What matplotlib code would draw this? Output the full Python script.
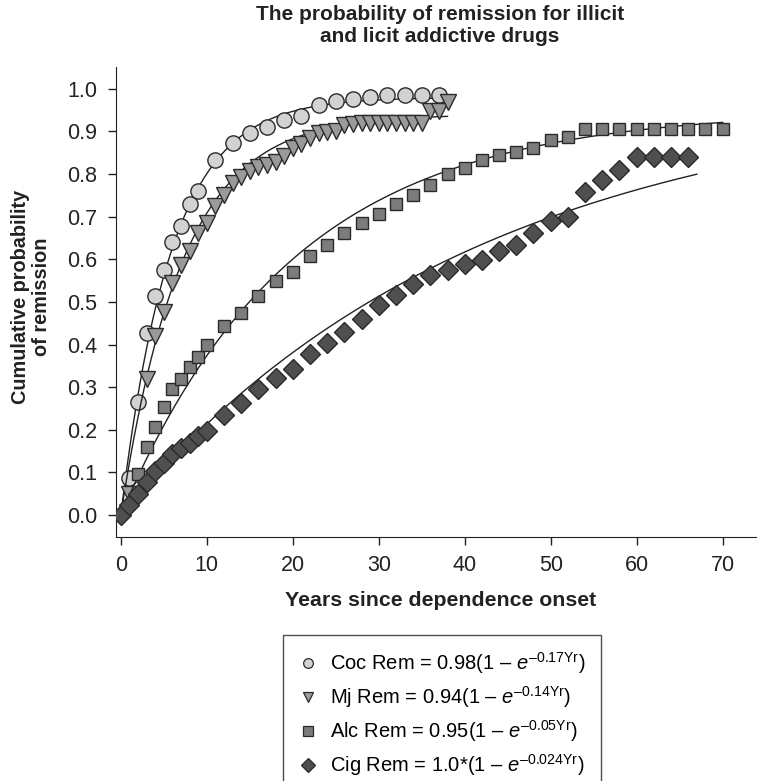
import numpy as np
import matplotlib
matplotlib.use("Agg")
from matplotlib import pyplot as plt
from matplotlib.lines import Line2D

plt.rcParams['font.family'] = ['Liberation Sans', 'DejaVu Sans']
plt.rcParams['mathtext.fontset'] = 'custom'
plt.rcParams['mathtext.rm'] = 'Liberation Sans'
plt.rcParams['mathtext.it'] = 'Liberation Sans:italic'

coc_years = [1, 2, 3, 4, 5, 6, 7, 8, 9, 11, 13, 15, 17, 19, 21, 23, 25, 27, 29, 31, 33, 35, 37]
coc_prob = [0.086, 0.266, 0.426, 0.514, 0.574, 0.64, 0.677, 0.73, 0.76, 0.833, 0.872, 0.897,
            0.911, 0.927, 0.937, 0.962, 0.972, 0.976, 0.98, 0.985, 0.985, 0.985, 0.985]

mj_years = [1, 3, 4, 5, 6, 7, 8, 9, 10, 11, 12, 13, 14, 15, 16, 17, 18, 19, 20, 21, 22, 23,
            24, 25, 26, 27, 28, 29, 30, 31, 32, 33, 34, 35, 36, 37, 38]
mj_prob = [0.05, 0.32, 0.42, 0.477, 0.545, 0.587, 0.62, 0.661, 0.685, 0.725, 0.75, 0.779,
           0.794, 0.808, 0.816, 0.822, 0.829, 0.843, 0.861, 0.871, 0.884, 0.896, 0.899,
           0.9, 0.915, 0.918, 0.92, 0.92, 0.92, 0.92, 0.92, 0.92, 0.92, 0.92, 0.947, 0.947, 0.97]

alc_years = [2, 3, 4, 5, 6, 7, 8, 9, 10, 12, 14, 16, 18, 20, 22, 24, 26, 28, 30, 32, 34, 36,
             38, 40, 42, 44, 46, 48, 50, 52, 54, 56, 58, 60, 62, 64, 66, 68, 70]
alc_prob = [0.096, 0.16, 0.207, 0.253, 0.296, 0.32, 0.347, 0.371, 0.399, 0.444, 0.473, 0.514,
            0.548, 0.571, 0.608, 0.634, 0.661, 0.686, 0.707, 0.73, 0.751, 0.774, 0.8, 0.814,
            0.832, 0.845, 0.851, 0.862, 0.879, 0.888, 0.906, 0.906, 0.906, 0.906, 0.906,
            0.906, 0.906, 0.906, 0.906]

cig_years = [0, 1, 2, 3, 4, 5, 6, 7, 8, 9, 10, 12, 14, 16, 18, 20, 22, 24, 26, 28, 30, 32, 34,
             36, 38, 40, 42, 44, 46, 48, 50, 52, 54, 56, 58, 60, 62, 64, 66]
cig_prob = [0.0, 0.023, 0.05, 0.078, 0.103, 0.123, 0.142, 0.156, 0.17, 0.185, 0.197, 0.235,
            0.262, 0.295, 0.321, 0.342, 0.378, 0.404, 0.43, 0.459, 0.493, 0.517, 0.542, 0.563,
            0.575, 0.59, 0.599, 0.62, 0.634, 0.661, 0.691, 0.699, 0.757, 0.785, 0.81, 0.84,
            0.84, 0.84, 0.84]

# fitted model: Rem = a * (1 - exp(-k * Yr)), drawn up to end year
fit_a = [0.98, 0.94, 0.95, 1.0]
fit_k = [0.17, 0.14, 0.05, 0.024]
fit_end = [37, 38, 70, 67]

labels = ["Coc Rem = 0.98(1 \u2013 $e^{\u20130.17\\mathrm{Yr}}$)",
          "Mj Rem = 0.94(1 \u2013 $e^{\u20130.14\\mathrm{Yr}}$)",
          "Alc Rem = 0.95(1 \u2013 $e^{\u20130.05\\mathrm{Yr}}$)",
          "Cig Rem = 1.0*(1 \u2013 $e^{\u20130.024\\mathrm{Yr}}$)"]

markers = ['o', 'v', 's', 'D']
fills = ['#d2d2d2', '#9a9a9a', '#7c7c7c', '#4f4f4f']
sizes = [11, 11.5, 8.5, 10]
edge = '#2a2a2a'

fig = plt.figure(figsize=(7.57, 7.81), dpi=100)
ax = fig.add_axes([0.1528, 0.3128, 0.8472, 0.6018])

series = [(coc_years, coc_prob), (mj_years, mj_prob), (alc_years, alc_prob), (cig_years, cig_prob)]
for i, (xs, ys) in enumerate(series):
    t = np.linspace(0, fit_end[i], 300)
    ax.plot(t, fit_a[i] * (1 - np.exp(-fit_k[i] * t)), color='#222222', lw=1.0, zorder=2 + i * 2)
    ax.plot(xs, ys, linestyle='none', marker=markers[i], markersize=sizes[i],
            markerfacecolor=fills[i], markeredgecolor=edge, markeredgewidth=1.0, zorder=3 + i * 2)

ax.set_xlim(-0.6, 74)
ax.set_ylim(-0.051, 1.052)
ax.set_xticks(np.arange(0, 71, 10))
ax.set_yticks(np.arange(0, 1.01, 0.1))
ax.set_yticklabels([f"{v:.1f}" for v in np.arange(0, 1.01, 0.1)])
ax.tick_params(labelsize=15.5, length=6, width=1, colors='#222222', pad=7)
for side in ['top', 'right']:
    ax.spines[side].set_visible(False)
for side in ['left', 'bottom']:
    ax.spines[side].set_color('#222222')

fig.text(0.581, 0.994, "The probability of remission for illicit\nand licit addictive drugs",
         ha='center', va='top', fontsize=15, fontweight='bold', linespacing=1.25, color='#222222')
fig.text(0.041, 0.62, "Cumulative probability\nof remission", ha='center', va='center',
         rotation=90, fontsize=14.3, fontweight='bold', linespacing=1.1, color='#222222')
fig.text(0.582, 0.231, "Years since dependence onset", ha='center', va='center',
         fontsize=15.3, fontweight='bold', color='#222222')

handles = [Line2D([], [], linestyle='none', marker=markers[i], markersize=7,
                  markerfacecolor=fills[i], markeredgecolor=edge, markeredgewidth=0.9)
           for i in range(4)]
leg = fig.legend(handles, labels, loc='upper left', bbox_to_anchor=(0.374, 0.187),
                 fontsize=14.5, frameon=True, fancybox=False, handlelength=1.0,
                 handletextpad=0.6, labelspacing=0.4, borderpad=0.75, borderaxespad=0)
leg.get_frame().set_edgecolor('#222222')
leg.get_frame().set_linewidth(1.0)

fig.savefig("out.png", dpi=100)
